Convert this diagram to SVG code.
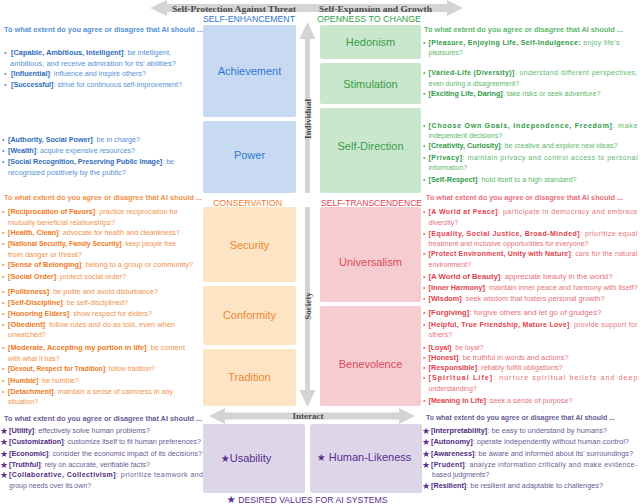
<svg xmlns="http://www.w3.org/2000/svg" width="640" height="504" viewBox="0 0 640 504">
<style>
text{font-family:"Liberation Sans",Arial,sans-serif}
.t{font-size:7px}
.q{font-weight:bold}
.k{font-weight:bold}
.lbl{font-size:11px;text-anchor:middle}
.hdr{font-size:8.6px}
.ser{font-family:"Liberation Serif","Times New Roman",serif;font-weight:bold;font-size:9px;fill:#4a4a4a}
.arr{fill:#d4d4d4}
.star{font-family:"DejaVu Sans",sans-serif;font-size:9px;fill:#5b2d90}
.blue .q,.blue .k{fill:#2d6cbd}.blue .t{fill:#5592d8}
.green .q,.green .k{fill:#2f9a46}.green .t{fill:#5db86b}
.orange .q,.orange .k{fill:#ef7a22}.orange .t{fill:#f2924a}
.red .q,.red .k{fill:#df3f4c}.red .t{fill:#e8707a}
.purple .q,.purple .k{fill:#4f2c82}.purple .t{fill:#6c5a96}
</style>

<g id="connectors">
  <polygon class="arr" points="150,8 167,0 167,4 447,4 447,0 463,8 447,16 447,12 167,12 167,16"/>
  <polygon class="arr" points="307.5,22 315.5,39 310,39 310,193 305,193 305,39 299.5,39"/>
  <polygon class="arr" points="307.5,407 315.5,390 310,390 310,207 305,207 305,390 299.5,390"/>
  <polygon class="arr" points="209,416 225,408 225,412.5 399,412.5 399,408 415,416 399,424 399,419.5 225,419.5 225,424"/>
  <text class="ser" x="172" y="11.5" textLength="124" lengthAdjust="spacingAndGlyphs">Self-Protection Against Threat</text>
  <text class="ser" x="319" y="11.5" textLength="113" lengthAdjust="spacingAndGlyphs">Self-Expansion and Growth</text>
  <text class="ser" transform="translate(311,119) rotate(-90)" text-anchor="middle">Individual</text>
  <text class="ser" transform="translate(311,306) rotate(-90)" text-anchor="middle">Society</text>
  <text class="ser" x="308" y="419" text-anchor="middle">Interact</text>
</g>

<g id="headers">
  <text class="hdr" x="203" y="21.5" fill="#2d74cc" textLength="92" lengthAdjust="spacingAndGlyphs">SELF-ENHANCEMENT</text>
  <text class="hdr" x="317" y="21.5" fill="#31a048" textLength="104" lengthAdjust="spacingAndGlyphs">OPENNESS TO CHANGE</text>
  <text class="hdr" x="213" y="205.5" fill="#f07b26" textLength="69" lengthAdjust="spacingAndGlyphs">CONSERVATION</text>
  <text class="hdr" x="321" y="205.5" fill="#e0404e" textLength="101" lengthAdjust="spacingAndGlyphs">SELF-TRANSCENDENCE</text>
</g>

<g id="node-achievement"><rect x="203" y="25" width="93" height="92" rx="2" fill="#c7daf1"/><text class="lbl" x="249.5" y="75" fill="#2f78d2">Achievement</text></g>
<g id="node-power"><rect x="203" y="121" width="93" height="72" rx="2" fill="#c7daf1"/><text class="lbl" x="249.5" y="159" fill="#2f78d2">Power</text></g>
<g id="node-hedonism"><rect x="320" y="25" width="101" height="34" rx="2" fill="#c9e7cc"/><text class="lbl" x="370.5" y="46" fill="#379e4a">Hedonism</text></g>
<g id="node-stimulation"><rect x="320" y="63" width="101" height="41" rx="2" fill="#c9e7cc"/><text class="lbl" x="370.5" y="88" fill="#379e4a">Stimulation</text></g>
<g id="node-self-direction"><rect x="320" y="108" width="101" height="85" rx="2" fill="#c9e7cc"/><text class="lbl" x="370.5" y="150" fill="#379e4a">Self-Direction</text></g>
<g id="node-security"><rect x="203" y="207" width="93" height="75" rx="2" fill="#fde4c5"/><text class="lbl" x="249.5" y="249" fill="#f28630">Security</text></g>
<g id="node-conformity"><rect x="203" y="286" width="93" height="59" rx="2" fill="#fde4c5"/><text class="lbl" x="249.5" y="319" fill="#f28630">Conformity</text></g>
<g id="node-tradition"><rect x="203" y="349" width="93" height="57" rx="2" fill="#fde4c5"/><text class="lbl" x="249.5" y="381" fill="#f28630">Tradition</text></g>
<g id="node-universalism"><rect x="320" y="207" width="101" height="95" rx="2" fill="#f5cdd1"/><text class="lbl" x="370.5" y="266" fill="#e0485a">Universalism</text></g>
<g id="node-benevolence"><rect x="320" y="306" width="101" height="100" rx="2" fill="#f5cdd1"/><text class="lbl" x="370.5" y="368" fill="#e0485a">Benevolence</text></g>
<g id="node-usability"><rect x="203" y="424" width="102" height="69" rx="2" fill="#ddd6e8"/><text class="lbl" x="246" y="462" fill="#5b2d90"><tspan font-family="DejaVu Sans,sans-serif" font-size="10">★</tspan>Usability</text></g>
<g id="node-human-likeness"><rect x="310" y="424" width="112" height="69" rx="2" fill="#ddd6e8"/><text class="lbl" x="364" y="461" fill="#5b2d90"><tspan font-family="DejaVu Sans,sans-serif" font-size="10">★</tspan> Human-Likeness</text></g>

<g id="legend"><text x="307" y="502.5" text-anchor="middle" font-size="8.4" fill="#5b2d90" textLength="161" lengthAdjust="spacingAndGlyphs"><tspan font-family="DejaVu Sans,sans-serif" font-size="10">★</tspan> DESIRED VALUES FOR AI SYSTEMS</text></g>

<g id="text-self-enhancement" class="blue">
  <text class="t q" x="4" y="31.5" textLength="199" lengthAdjust="spacingAndGlyphs">To what extent do you agree or disagree that AI should ...</text>
  <text class="t" x="4" y="54.5">•</text>
  <text class="t" x="11" y="54.5" textLength="160" lengthAdjust="spacingAndGlyphs"><tspan class="k">[Capable, Ambitious, Intelligent]</tspan>: be intelligent,</text>
  <text class="t" x="10" y="65.5" textLength="166" lengthAdjust="spacingAndGlyphs">ambitious, and receive admiration for its' abilities?</text>
  <text class="t" x="4" y="75.5">•</text>
  <text class="t" x="11" y="75.5" textLength="135" lengthAdjust="spacingAndGlyphs"><tspan class="k">[Influential]</tspan>: influence and inspire others?</text>
  <text class="t" x="4" y="86.5">•</text>
  <text class="t" x="11" y="86.5" textLength="171" lengthAdjust="spacingAndGlyphs"><tspan class="k">[Successful]</tspan>: strive for continuous self-improvement?</text>
  <text class="t" x="2" y="141.5">•</text>
  <text class="t" x="8" y="141.5" textLength="132" lengthAdjust="spacingAndGlyphs"><tspan class="k">[Authority, Social Power]</tspan>: be in charge?</text>
  <text class="t" x="2" y="152.5">•</text>
  <text class="t" x="8" y="152.5" textLength="127" lengthAdjust="spacingAndGlyphs"><tspan class="k">[Wealth]</tspan>: acquire expensive resources?</text>
  <text class="t" x="2" y="163.5">•</text>
  <text class="t" x="8" y="163.5" textLength="166" lengthAdjust="spacingAndGlyphs"><tspan class="k">[Social Recognition, Preserving Public Image]</tspan>: be</text>
  <text class="t" x="8" y="174.5" textLength="118" lengthAdjust="spacingAndGlyphs">recognized positively by the public?</text>
</g>

<g id="text-conservation" class="orange">
  <text class="t q" x="4" y="199.5" textLength="198" lengthAdjust="spacingAndGlyphs">To what extent do you agree or disagree that AI should ...</text>
  <text class="t" x="2" y="213.5">•</text>
  <text class="t" x="8" y="213.5" textLength="170" lengthAdjust="spacingAndGlyphs"><tspan class="k">[Reciprocation of Favors]</tspan>: practice reciprocation for</text>
  <text class="t" x="8" y="224.5" textLength="107" lengthAdjust="spacingAndGlyphs">mutually beneficial relationships?</text>
  <text class="t" x="2" y="234.5">•</text>
  <text class="t" x="8" y="234.5" textLength="172" lengthAdjust="spacingAndGlyphs"><tspan class="k">[Health, Clean]</tspan>: advocate for health and cleanliness?</text>
  <text class="t" x="2" y="245.5">•</text>
  <text class="t" x="8" y="245.5" textLength="168" lengthAdjust="spacingAndGlyphs"><tspan class="k">[National Security, Family Security]</tspan>: keep people free</text>
  <text class="t" x="8" y="256.5" textLength="74" lengthAdjust="spacingAndGlyphs">from danger or threat?</text>
  <text class="t" x="2" y="266.5">•</text>
  <text class="t" x="8" y="266.5" textLength="185" lengthAdjust="spacingAndGlyphs"><tspan class="k">[Sense of Belonging]</tspan>: belong to a group or community?</text>
  <text class="t" x="2" y="278.5">•</text>
  <text class="t" x="8" y="278.5" textLength="118" lengthAdjust="spacingAndGlyphs"><tspan class="k">[Social Order]</tspan>: protect social order?</text>
  <text class="t" x="2" y="293.5">•</text>
  <text class="t" x="8" y="293.5" textLength="150" lengthAdjust="spacingAndGlyphs"><tspan class="k">[Politeness]</tspan>: be polite and avoid disturbance?</text>
  <text class="t" x="2" y="304.5">•</text>
  <text class="t" x="8" y="304.5" textLength="120" lengthAdjust="spacingAndGlyphs"><tspan class="k">[Self-Discipline]</tspan>: be self-disciplined?</text>
  <text class="t" x="2" y="315.5">•</text>
  <text class="t" x="8" y="315.5" textLength="144" lengthAdjust="spacingAndGlyphs"><tspan class="k">[Honoring Elders]</tspan>: show respect for elders?</text>
  <text class="t" x="2" y="326.5">•</text>
  <text class="t" x="8" y="326.5" textLength="167" lengthAdjust="spacingAndGlyphs"><tspan class="k">[Obedient]</tspan>: follow rules and do as told, even when</text>
  <text class="t" x="8" y="336.5">unwatched?</text>
  <text class="t" x="2" y="349.5">•</text>
  <text class="t" x="8" y="349.5" textLength="177" lengthAdjust="spacingAndGlyphs"><tspan class="k">[Moderate, Accepting my portion in life]</tspan>: be content</text>
  <text class="t" x="8" y="360.5">with what it has?</text>
  <text class="t" x="2" y="370.5">•</text>
  <text class="t" x="8" y="370.5" textLength="147" lengthAdjust="spacingAndGlyphs"><tspan class="k">[Devout, Respect for Tradition]</tspan>: follow tradition?</text>
  <text class="t" x="2" y="382.5">•</text>
  <text class="t" x="8" y="382.5"><tspan class="k">[Humble]</tspan>: be humble?</text>
  <text class="t" x="2" y="393.5">•</text>
  <text class="t" x="8" y="393.5" textLength="165" lengthAdjust="spacingAndGlyphs"><tspan class="k">[Detachment]</tspan>: maintain a sense of calmness in any</text>
  <text class="t" x="8" y="403.5">situation?</text>
</g>

<g id="text-ai-left" class="purple">
  <text class="t q" x="4" y="420.5" textLength="198" lengthAdjust="spacingAndGlyphs">To what extent do you agree or disagree that AI should ...</text>
  <text class="star" x="0" y="434">★</text>
  <text class="t" x="9" y="432.5" textLength="141" lengthAdjust="spacingAndGlyphs"><tspan class="k">[Utility]</tspan>: effectively solve human problems?</text>
  <text class="star" x="0" y="445">★</text>
  <text class="t" x="9" y="443.5" textLength="192" lengthAdjust="spacingAndGlyphs"><tspan class="k">[Customization]</tspan>: customize itself to fit human preferences?</text>
  <text class="star" x="0" y="457">★</text>
  <text class="t" x="9" y="455.5" textLength="193" lengthAdjust="spacingAndGlyphs"><tspan class="k">[Economic]</tspan>: consider the economic impact of its decisions?</text>
  <text class="star" x="0" y="468">★</text>
  <text class="t" x="9" y="466.5" textLength="141" lengthAdjust="spacingAndGlyphs"><tspan class="k">[Truthful]</tspan>: rely on accurate, verifiable facts?</text>
  <text class="star" x="0" y="478">★</text>
  <text class="t" x="9" y="476.5" textLength="194" lengthAdjust="spacing"><tspan class="k">[Collaborative, Collectivism]</tspan>: prioritize teamwork and</text>
  <text class="t" x="9" y="487.5">group needs over its own?</text>
</g>

<g id="text-openness" class="green">
  <text class="t q" x="424" y="31.5" textLength="199" lengthAdjust="spacingAndGlyphs">To what extent do you agree or disagree that AI should ...</text>
  <text class="t" x="423" y="44.5">•</text>
  <text class="t" x="428.5" y="44.5" textLength="191" lengthAdjust="spacing"><tspan class="k">[Pleasure, Enjoying Life, Self-Indulgence:</tspan> enjoy life's</text>
  <text class="t" x="428.5" y="54.5">pleasures?</text>
  <text class="t" x="423" y="74.5">•</text>
  <text class="t" x="428.5" y="74.5" textLength="209" lengthAdjust="spacing"><tspan class="k">[Varied-Life (Diversity)]</tspan>: understand different perspectives,</text>
  <text class="t" x="428.5" y="85.5">even during a disagreement?</text>
  <text class="t" x="423" y="95.5">•</text>
  <text class="t" x="428.5" y="95.5" textLength="172" lengthAdjust="spacingAndGlyphs"><tspan class="k">[Exciting Life, Daring]</tspan>: take risks or seek adventure?</text>
  <text class="t" x="423" y="127.5">•</text>
  <text class="t" x="428.5" y="127.5" textLength="209" lengthAdjust="spacing"><tspan class="k">[Choose Own Goals, Independence, Freedom]</tspan>: make</text>
  <text class="t" x="428.5" y="137.5">independent decisions?</text>
  <text class="t" x="423" y="147.5">•</text>
  <text class="t" x="428.5" y="147.5" textLength="189" lengthAdjust="spacingAndGlyphs"><tspan class="k">[Creativity, Curiosity]</tspan>: be creative and explore new ideas?</text>
  <text class="t" x="423" y="159.5">•</text>
  <text class="t" x="428.5" y="159.5" textLength="209" lengthAdjust="spacing"><tspan class="k">[Privacy]</tspan>: maintain privacy and control access to personal</text>
  <text class="t" x="428.5" y="169.5">information?</text>
  <text class="t" x="423" y="181.5">•</text>
  <text class="t" x="428.5" y="181.5" textLength="148" lengthAdjust="spacingAndGlyphs"><tspan class="k">[Self-Respect]</tspan>: hold itself to a high standard?</text>
</g>

<g id="text-self-transcendence" class="red">
  <text class="t q" x="426" y="199.5" textLength="197" lengthAdjust="spacingAndGlyphs">To what extent do you agree or disagree that AI should ...</text>
  <text class="t" x="423" y="213.5">•</text>
  <text class="t" x="428.5" y="213.5" textLength="209" lengthAdjust="spacing"><tspan class="k">[A World at Peace]</tspan>: participate in democracy and embrace</text>
  <text class="t" x="428.5" y="224.5">diversity?</text>
  <text class="t" x="423" y="235.5">•</text>
  <text class="t" x="428.5" y="235.5" textLength="209" lengthAdjust="spacing"><tspan class="k">[Equality, Social Justice, Broad-Minded]</tspan>: prioritize equal</text>
  <text class="t" x="428.5" y="245.5" textLength="160" lengthAdjust="spacingAndGlyphs">treatment and inclusive opportunities for everyone?</text>
  <text class="t" x="423" y="255.5">•</text>
  <text class="t" x="428.5" y="255.5" textLength="209" lengthAdjust="spacing"><tspan class="k">[Protect Environment, Unity with Nature]</tspan>: care for the natural</text>
  <text class="t" x="428.5" y="266.5">environment?</text>
  <text class="t" x="423" y="278.5">•</text>
  <text class="t" x="428.5" y="278.5" textLength="184" lengthAdjust="spacingAndGlyphs"><tspan class="k">[A World of Beauty]</tspan>: appreciate beauty in the world?</text>
  <text class="t" x="423" y="289.5">•</text>
  <text class="t" x="428.5" y="289.5" textLength="209" lengthAdjust="spacingAndGlyphs"><tspan class="k">[Inner Harmony]</tspan>: maintain inner peace and harmony with itself?</text>
  <text class="t" x="423" y="300.5">•</text>
  <text class="t" x="428.5" y="300.5" textLength="176" lengthAdjust="spacingAndGlyphs"><tspan class="k">[Wisdom]</tspan>: seek wisdom that fosters personal growth?</text>
  <text class="t" x="423" y="314.5">•</text>
  <text class="t" x="428.5" y="314.5" textLength="173" lengthAdjust="spacingAndGlyphs"><tspan class="k">[Forgiving]</tspan>: forgive others and let go of grudges?</text>
  <text class="t" x="423" y="326.5">•</text>
  <text class="t" x="428.5" y="326.5" textLength="209" lengthAdjust="spacing"><tspan class="k">[Helpful, True Friendship, Mature Love]</tspan>: provide support for</text>
  <text class="t" x="428.5" y="336.5">others?</text>
  <text class="t" x="423" y="349.5">•</text>
  <text class="t" x="428.5" y="349.5"><tspan class="k">[Loyal]</tspan>: be loyal?</text>
  <text class="t" x="423" y="359.5">•</text>
  <text class="t" x="428.5" y="359.5" textLength="140" lengthAdjust="spacingAndGlyphs"><tspan class="k">[Honest]</tspan>: be truthful in words and actions?</text>
  <text class="t" x="423" y="369.5">•</text>
  <text class="t" x="428.5" y="369.5" textLength="134" lengthAdjust="spacingAndGlyphs"><tspan class="k">[Responsible]</tspan>: reliably fulfill obligations?</text>
  <text class="t" x="423" y="380">•</text>
  <text class="t" x="428.5" y="380" textLength="209" lengthAdjust="spacing"><tspan class="k">[Spiritual Life]</tspan>: nurture spiritual beliefs and deep</text>
  <text class="t" x="428.5" y="391">understanding?</text>
  <text class="t" x="423" y="402.5">•</text>
  <text class="t" x="428.5" y="402.5" textLength="144" lengthAdjust="spacingAndGlyphs"><tspan class="k">[Meaning in Life]</tspan>: seek a sense of purpose?</text>
</g>

<g id="text-ai-right" class="purple">
  <text class="t q" x="426" y="419.5" textLength="189" lengthAdjust="spacingAndGlyphs">To what extent do you agree or disagree that AI should ...</text>
  <text class="star" x="422" y="434">★</text>
  <text class="t" x="431" y="432.5" textLength="176" lengthAdjust="spacingAndGlyphs"><tspan class="k">[Interpretability]</tspan>: be easy to understand by humans?</text>
  <text class="star" x="422" y="445">★</text>
  <text class="t" x="431" y="443.5" textLength="198" lengthAdjust="spacingAndGlyphs"><tspan class="k">[Autonomy]</tspan>: operate independently without human control?</text>
  <text class="star" x="422" y="457">★</text>
  <text class="t" x="431" y="455.5" textLength="202" lengthAdjust="spacingAndGlyphs"><tspan class="k">[Awareness]</tspan>: be aware and informed about its' surroundings?</text>
  <text class="star" x="422" y="468">★</text>
  <text class="t" x="431" y="466.5" textLength="206" lengthAdjust="spacing"><tspan class="k">[Prudent]</tspan>: analyze information critically and make evidence-</text>
  <text class="t" x="432" y="476.5">based judgments?</text>
  <text class="star" x="422" y="489">★</text>
  <text class="t" x="431" y="487.5" textLength="172" lengthAdjust="spacingAndGlyphs"><tspan class="k">[Resilient]</tspan>: be resilient and adaptable to challenges?</text>
</g>
</svg>
